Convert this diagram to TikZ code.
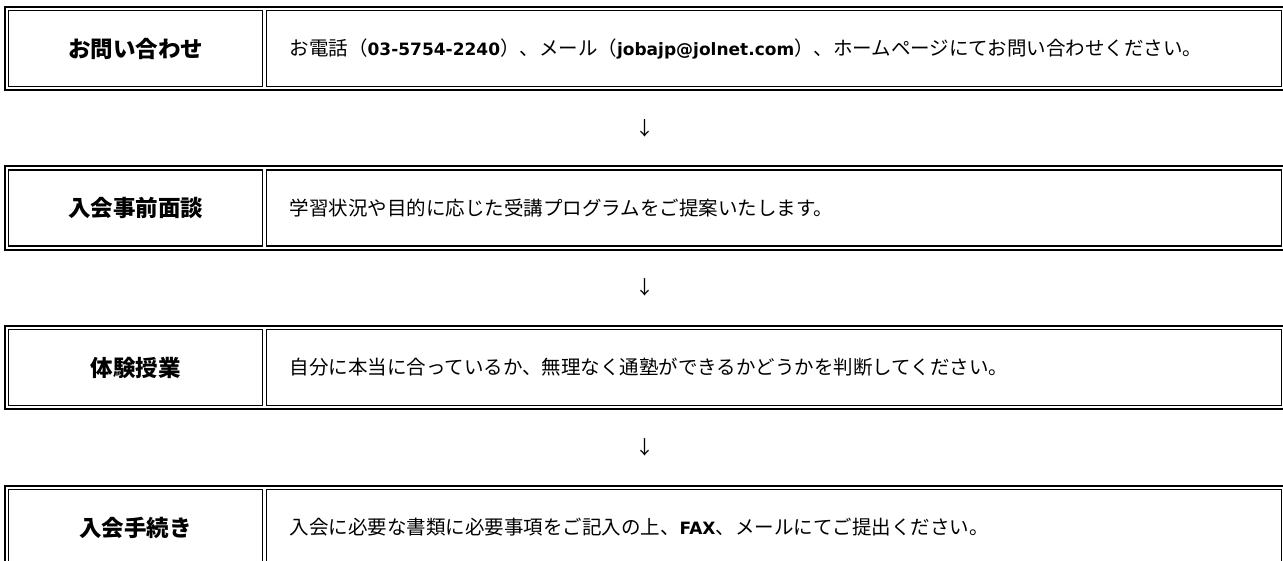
\documentclass[tikz,border=0pt]{standalone}
\usepackage{fontspec}
\newfontfamily\jp{Noto Sans CJK JP}
\newfontfamily\lat{DejaVu Sans}
\usetikzlibrary{fit,calc}
\begin{document}
\begin{tikzpicture}[x=1pt,y=-1pt,
  labelcell/.style={draw, line width=1.3pt, minimum width=254pt, minimum height=76pt, inner sep=0pt,
    font=\jp\bfseries\fontsize{22.5}{24}\selectfont},
  contentcell/.style={draw, line width=1.3pt, anchor=west, minimum height=76pt, inner xsep=23.5pt, inner ysep=0pt,
    text width=968.5pt, align=left, font=\jp\fontsize{19.5}{21}\selectfont},
  outerbox/.style={draw, line width=1.9pt, inner sep=3pt},
  arrowtxt/.style={font=\jp\fontsize{19}{20}\selectfont, inner sep=0pt}]
\newcommand{\lb}[1]{{\lat\bfseries\fontsize{17}{21}\selectfont #1}}
\useasboundingbox (0,0) rectangle (1283,561);
\clip (0,0) rectangle (1283,561);
% row 1
\node[labelcell] (l1) at (135.5,48.5) {お問い合わせ};
\node[contentcell] (c1) at (265.5,48.5) {お電話（\lb{03-5754-2240}）、メール（\lb{jobajp@jolnet.com}）、ホームページにてお問い合わせください。};
\node[outerbox, fit=(l1)(c1)] (t1) {};
% row 2
\node[labelcell] (l2) at (135.5,208) {入会事前面談};
\node[contentcell] (c2) at (265.5,208) {学習状況や目的に応じた受講プログラムをご提案いたします。};
\node[outerbox, fit=(l2)(c2)] (t2) {};
% row 3
\node[labelcell] (l3) at (135.5,367.5) {体験授業};
\node[contentcell] (c3) at (265.5,367.5) {自分に本当に合っているか、無理なく通塾ができるかどうかを判断してください。};
\node[outerbox, fit=(l3)(c3)] (t3) {};
% row 4
\node[labelcell] (l4) at (135.5,527.5) {入会手続き};
\node[contentcell] (c4) at (265.5,527.5) {入会に必要な書類に必要事項をご記入の上、\lb{FAX}、メールにてご提出ください。};
\node[outerbox, fit=(l4)(c4)] (t4) {};
% arrows
\node[arrowtxt] (a1) at ($(t1.south)!0.5!(t2.north)$) {↓};
\node[arrowtxt] (a2) at ($(t2.south)!0.5!(t3.north)$) {↓};
\node[arrowtxt] (a3) at ($(t3.south)!0.5!(t4.north)$) {↓};
\end{tikzpicture}
\end{document}
